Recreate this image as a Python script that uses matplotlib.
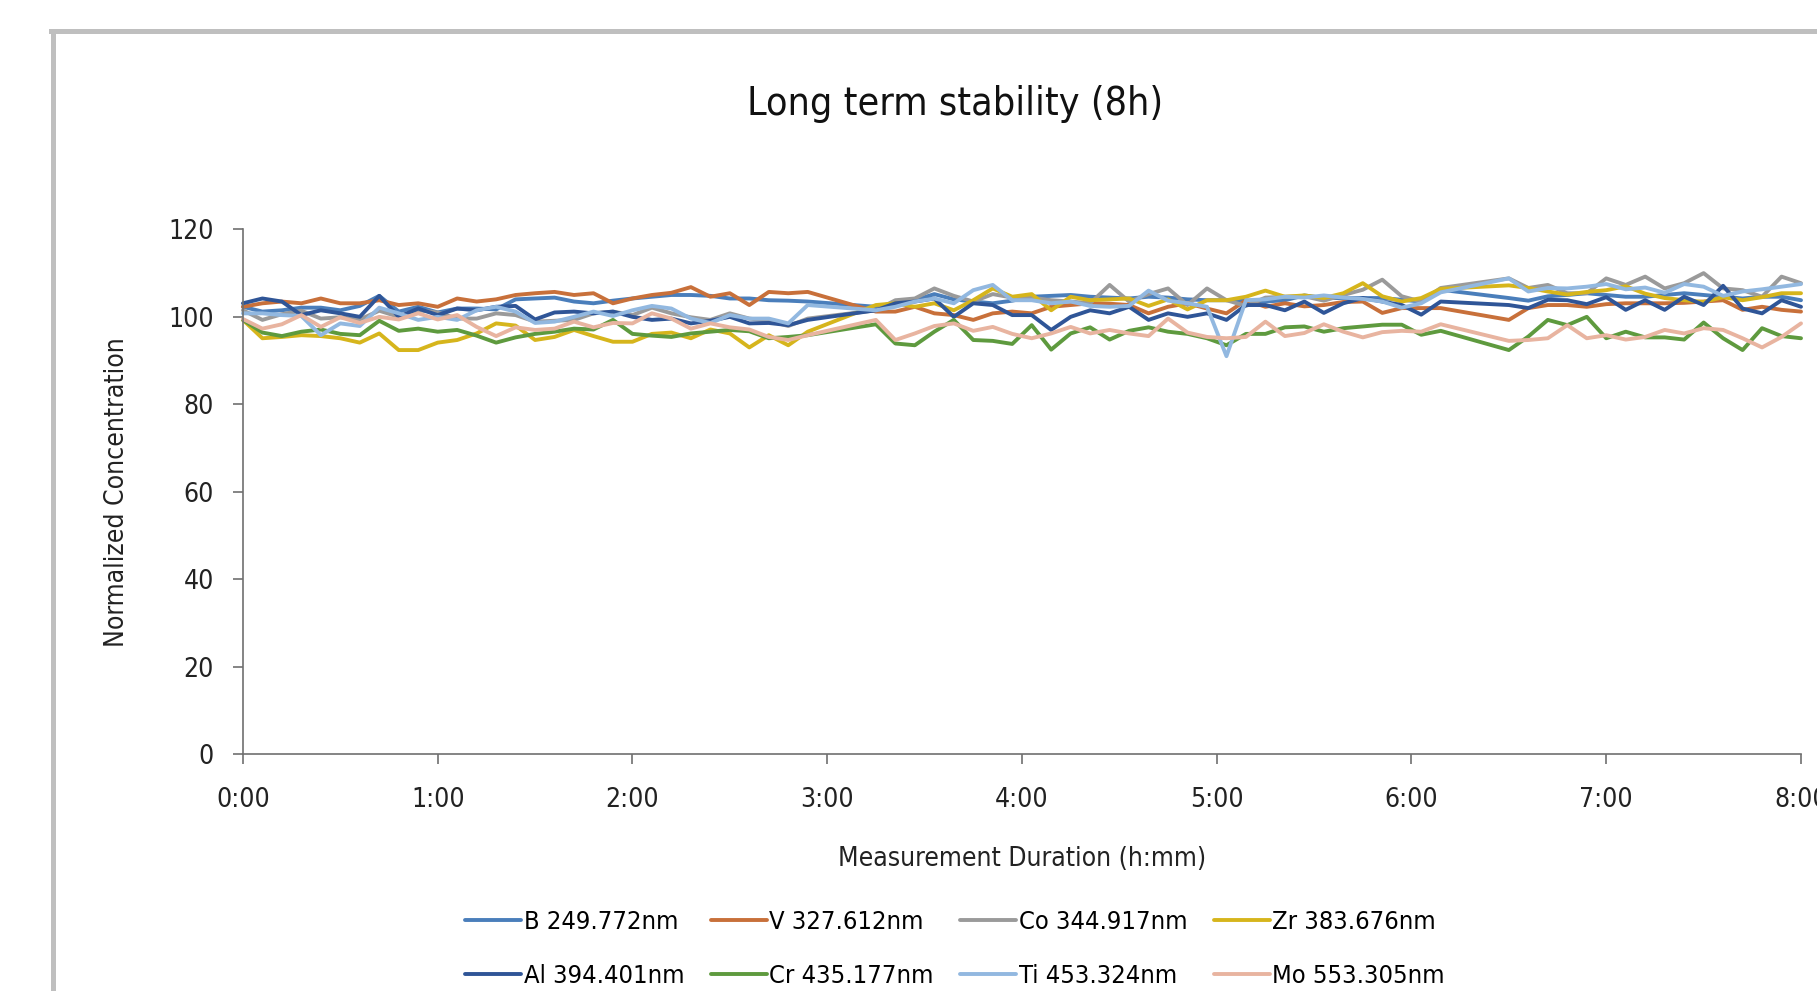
import matplotlib
matplotlib.use('Agg')
import matplotlib.pyplot as plt
from matplotlib.lines import Line2D

plt.rcParams['font.family'] = ['DejaVu Sans']
plt.rcParams['font.stretch'] = 'condensed'

# measurement times in minutes (gaps around 2:55-3:15 and 6:10-6:30)
minutes = [0, 6, 12, 18, 24, 30, 36, 42, 48, 54, 60, 66, 72, 78, 84, 90, 96, 102,
           108, 114, 120, 126, 132, 138, 144, 150, 156, 162, 168, 174,
           195, 201, 207, 213, 219, 225, 231, 237, 243, 249, 255, 261, 267, 273,
           279, 285, 291, 297, 303, 309, 315, 321, 327, 333, 339, 345, 351, 357,
           363, 369,
           390, 396, 402, 408, 414, 420, 426, 432, 438, 444, 450, 456, 462, 468,
           474, 480]

b_vals = [102.3, 101.2, 101.5, 102.1, 102.1, 101.5, 102.5, 104.8, 101.2, 102.3, 101.0, 101.9, 101.9, 101.7,
          104.0, 104.2, 104.4, 103.5, 103.1, 103.7, 104.2, 104.6, 105.0, 105.0, 104.8, 104.2, 104.2,
          103.8, 103.7, 103.5,
          102.3, 103.2, 103.8, 105.2, 104.0, 103.5, 103.1, 103.7,
          104.6, 104.8, 105.0, 104.6, 104.4, 104.2, 104.6, 104.4, 104.0, 103.8, 103.8, 103.7, 103.5, 103.8,
          104.9, 104.3, 104.3, 104.3, 104.3, 103.9, 103.5, 106.2,
          104.3, 103.7, 104.7,
          105.0, 105.4, 105.0, 104.6, 104.6, 105.0, 105.4, 105.0, 104.6, 104.2, 104.6, 104.6, 103.8]

v_vals = [102.3, 103.1, 103.5, 103.1, 104.2, 103.1, 103.1, 103.8, 102.7, 103.1, 102.3, 104.2, 103.5, 104.0,
          105.0, 105.4, 105.7, 105.0, 105.4, 103.1, 104.2, 105.0, 105.5, 106.8, 104.6, 105.4, 102.7,
          105.7, 105.4, 105.7,
          101.2, 101.2, 102.3, 100.8, 100.4, 99.3, 100.8, 101.2,
          100.8, 102.3, 102.7, 103.1, 103.0, 102.7, 100.8, 102.3, 103.1, 101.9, 100.8, 103.8, 102.3, 103.1,
          102.4, 102.7, 103.4, 103.5, 100.9, 102.0, 102.0, 102.0,
          99.3, 102.0, 102.7,
          102.7, 102.3, 102.9, 103.1, 103.1, 103.1, 103.2, 103.5, 103.8, 101.6, 102.3, 101.6, 101.2]

co_vals = [101.5, 99.3, 100.6, 101.4, 99.6, 99.9, 99.4, 101.4, 100.0, 101.5, 101.0, 99.6, 99.6, 100.8,
           100.4, 98.9, 99.1, 99.3, 100.8, 101.2, 100.4, 102.1, 100.8, 99.9, 99.3, 100.8, 99.6,
           99.1, 97.9, 99.6,
           101.5, 103.8, 104.2, 106.5, 104.8, 103.5, 105.2, 104.4,
           104.4, 103.8, 103.5, 103.1, 107.3, 103.5, 105.2, 106.5, 102.7, 106.5, 103.8, 102.5, 104.4, 104.6,
           104.7, 103.7, 105.0, 106.2, 108.5, 104.7, 103.5, 106.6,
           108.8, 106.6, 107.3,
           105.4, 105.4, 108.8, 107.3, 109.2, 106.5, 107.7, 110.0, 106.5, 106.1, 104.6, 109.2, 107.7]

zr_vals = [99.3, 95.1, 95.4, 95.8, 95.6, 95.1, 94.1, 96.2, 92.4, 92.4, 94.1, 94.7, 96.2, 98.5,
           98.0, 94.7, 95.4, 97.0, 95.6, 94.3, 94.3, 96.1, 96.4, 95.1, 97.1, 96.2, 93.0,
           95.8, 93.5, 96.6,
           102.7, 103.1, 102.3, 103.1, 101.5, 103.8, 106.5, 104.6,
           105.2, 101.5, 104.6, 103.8, 104.0, 104.2, 102.5, 104.0, 101.7, 103.8, 103.8, 104.6, 106.0, 104.6,
           104.9, 104.3, 105.4, 107.7, 104.7, 103.5, 104.3, 106.4,
           107.2, 106.6, 105.8,
           105.1, 105.7, 106.1, 107.0, 105.3, 104.3, 103.8, 103.4, 104.5, 103.8, 104.5, 105.4, 105.4]

al_vals = [103.1, 104.2, 103.5, 100.4, 101.5, 100.8, 100.0, 104.8, 100.0, 101.9, 100.4, 101.9, 101.5, 102.3,
           102.5, 99.4, 101.0, 101.2, 100.8, 101.2, 100.0, 99.3, 99.6, 98.5, 99.1, 100.0, 98.5,
           98.6, 98.1, 99.3,
           101.5, 103.1, 103.5, 104.2, 100.0, 103.1, 102.7, 100.4,
           100.4, 97.0, 100.0, 101.5, 100.8, 102.3, 99.3, 100.8, 100.0, 100.8, 99.3, 102.7, 102.7, 101.5,
           103.5, 100.9, 103.1, 104.3, 103.5, 102.7, 100.5, 103.5,
           102.7, 102.0, 103.9,
           103.8, 102.9, 104.5, 101.6, 103.8, 101.6, 104.6, 102.7, 107.1, 101.9, 100.8, 103.8, 102.3]

cr_vals = [99.3, 96.4, 95.6, 96.6, 97.1, 96.1, 95.8, 99.1, 96.8, 97.3, 96.6, 97.0, 95.7, 94.1,
           95.3, 96.1, 96.6, 97.3, 97.1, 99.3, 96.1, 95.7, 95.4, 96.2, 96.6, 97.0, 96.7,
           95.1, 95.4, 95.8,
           98.3, 93.9, 93.5, 96.6, 99.3, 94.7, 94.5, 93.8,
           98.1, 92.5, 96.2, 97.6, 94.8, 96.8, 97.6, 96.6, 96.1, 95.1, 93.5, 96.1, 96.1, 97.6,
           97.8, 96.6, 97.4, 97.8, 98.2, 98.2, 95.9, 96.8,
           92.4, 95.5, 99.3,
           98.1, 100.0, 95.1, 96.6, 95.3, 95.3, 94.8, 98.7, 95.1, 92.4, 97.4, 95.6, 95.1]

ti_vals = [100.8, 100.8, 100.4, 100.2, 95.8, 98.5, 97.9, 102.1, 100.8, 99.3, 100.0, 99.3, 101.5, 102.3,
           101.2, 98.6, 98.9, 100.0, 101.2, 100.2, 101.5, 102.5, 101.9, 99.6, 98.6, 100.4, 99.6,
           99.6, 98.5, 102.7,
           101.5, 102.3, 103.5, 104.2, 103.1, 106.1, 107.3, 103.8,
           103.8, 103.1, 103.5, 102.5, 102.3, 102.5, 106.0, 103.7, 103.1, 102.3, 91.0, 103.8, 104.0, 104.6,
           104.4, 104.9, 104.4, 104.1, 103.5, 102.1, 103.1, 105.6,
           108.8, 105.8, 106.6,
           106.5, 106.9, 107.5, 106.3, 106.7, 105.5, 107.5, 106.9, 104.8, 105.8, 106.3, 106.9, 107.5]

mo_vals = [99.5, 97.3, 98.3, 100.4, 97.7, 99.9, 98.6, 100.0, 99.4, 100.8, 99.4, 100.4, 97.7, 95.6,
           97.6, 97.0, 97.3, 98.9, 97.6, 98.6, 98.5, 100.8, 99.6, 97.3, 98.5, 97.6, 97.1,
           95.4, 94.7, 95.8,
           99.3, 94.7, 96.2, 97.9, 98.5, 96.8, 97.7, 96.1,
           95.1, 96.2, 97.7, 96.2, 97.0, 96.2, 95.6, 99.6, 96.4, 95.4, 95.1, 95.4, 98.9, 95.6,
           96.3, 98.3, 96.6, 95.3, 96.5, 96.8, 96.6, 98.3,
           94.5, 94.7, 95.1,
           98.1, 95.1, 95.8, 94.8, 95.4, 97.0, 96.2, 97.4, 97.0, 95.1, 93.0, 95.4, 98.5]

labels = ['B 249.772nm', 'V 327.612nm', 'Co 344.917nm', 'Zr 383.676nm',
          'Al 394.401nm', 'Cr 435.177nm', 'Ti 453.324nm', 'Mo 553.305nm']
values = [b_vals, v_vals, co_vals, zr_vals, al_vals, cr_vals, ti_vals, mo_vals]
colors = ['#4a7ebb', '#c8703a', '#9a9a9a', '#d6b51c',
          '#2f5597', '#5e9a3e', '#92b8e0', '#e8b4a0']

x_ticks = [0, 60, 120, 180, 240, 300, 360, 420, 480]
x_labels = ['0:00', '1:00', '2:00', '3:00', '4:00', '5:00', '6:00', '7:00', '8:00']

fig = plt.figure(figsize=(18.17, 9.91), dpi=100)
ax = fig.add_axes([0.1337, 0.2392, 0.8575, 0.5293])

lines = []
for lab, vals, col in zip(labels, values, colors):
    ln, = ax.plot(minutes, vals, color=col, lw=2.8, label=lab,
                  solid_joinstyle='round', solid_capstyle='round', clip_on=False)
    lines.append(ln)

ax.set_xlim(0, 480)
ax.set_ylim(0, 120)
ax.set_xticks(x_ticks)
ax.set_xticklabels(x_labels)
ax.set_yticks([0, 20, 40, 60, 80, 100, 120])
ax.tick_params(axis='both', labelsize=19, length=7, width=1.2, color='#707070',
               pad=14, labelcolor='#222222')
ax.tick_params(axis='x', pad=16.5)
for s in ['top', 'right']:
    ax.spines[s].set_visible(False)
for s in ['left', 'bottom']:
    ax.spines[s].set_color('#707070')
    ax.spines[s].set_linewidth(1.2)

# axis titles centred on the plot area, chart title and legend on the chart box
fig.text(0.0644, 0.5035, 'Normalized Concentration', rotation=90, ha='center',
         va='center', fontsize=19, color='#222222')
fig.text(0.5624, 0.1332, 'Measurement Duration (h:mm)', ha='center', va='center',
         fontsize=19, color='#222222')
fig.text(0.5256, 0.895, 'Long term stability (8h)', ha='center', va='center',
         fontsize=28.3, color='#111111')

# legend rows: B V Co Zr / Al Cr Ti Mo (legend fills column-wise)
order = [0, 4, 1, 5, 2, 6, 3, 7]
fig.legend([lines[i] for i in order], [labels[i] for i in order], ncol=4,
           loc='center', bbox_to_anchor=(0.5256, 0.0424), frameon=False,
           fontsize=18.3, handlelength=2.2, handletextpad=0.1, columnspacing=1.05,
           labelspacing=1.15, borderaxespad=0)

# grey frame of the original chart area
fig.add_artist(Line2D([0.0289, 0.0289], [0.0, 0.9692], transform=fig.transFigure,
                      color='#bfbfbf', lw=3.6))
fig.add_artist(Line2D([0.0279, 1.0], [0.9692, 0.9692], transform=fig.transFigure,
                      color='#bfbfbf', lw=3.6))

fig.savefig('out.png', dpi=100)
